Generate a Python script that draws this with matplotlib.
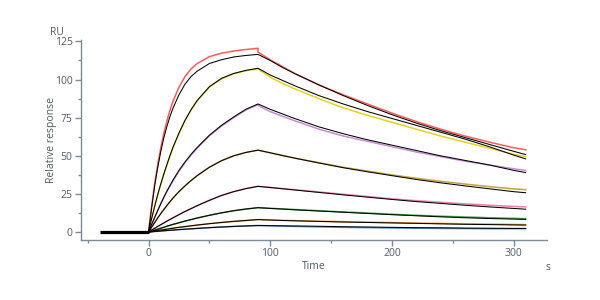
import matplotlib
matplotlib.use("Agg")
import matplotlib.pyplot as plt
from matplotlib.ticker import MultipleLocator

# time points (s)
t_base = [-40, 0]
t_on = [0, 2.5, 5, 7.5, 10, 12.5, 15, 17.5, 20, 25, 30, 35, 40, 50, 60, 70, 80, 90]
t_off = [90, 100, 110, 120, 140, 160, 180, 200, 220, 240, 260, 280, 300, 310]
base = [0, 0]

# measured curves (RU), association / dissociation
red_on = [0, 16.5, 31.5, 44, 55, 64.5, 72.5, 79.5, 85.5, 95, 102, 107, 110.5, 115, 117.3, 118.7, 119.7, 120.5]
red_off = [118, 113, 108.5, 104, 96.5, 90, 84, 78, 72.5, 67.5, 63, 59, 55.3, 54]
yellow_on = [0, 8.5, 16.5, 24, 31, 37.5, 43.5, 49.5, 55, 64.5, 73, 80, 86, 95, 100.5, 103.8, 105.8, 107]
yellow_off = [107, 101.5, 97.5, 94, 87.5, 81.5, 76.5, 72, 67.5, 63, 59, 55, 51, 49.5]
purple_on = [0, 4.8, 9.5, 14, 18.5, 22.5, 26.5, 30, 33.5, 40, 45.5, 50.5, 55, 63, 69.5, 75, 80, 83.5]
purple_off = [83, 79, 76, 73, 67.5, 63, 59.5, 56, 52.5, 49.5, 46.5, 44, 41.5, 40.4]
ochre_on = [0, 3.1, 6.2, 9.2, 12, 14.7, 17.3, 19.8, 22.2, 26.5, 30.3, 33.8, 37, 42.5, 46.8, 50, 52.2, 53.7]
ochre_off = [53.7, 52, 50.2, 48.5, 45.5, 42.5, 40, 37.5, 35.3, 33.3, 31.5, 29.8, 28.3, 27.8]
pink_on = [0, 1.25, 2.5, 3.65, 4.8, 5.95, 7.1, 8.2, 9.3, 11.4, 13.5, 15.4, 17.3, 20.8, 24, 26.5, 28.5, 30]
pink_off = [30, 29.3, 28.5, 27.8, 26.3, 24.8, 23.3, 21.8, 20.6, 19.5, 18.5, 17.6, 16.8, 16.5]
green_on = [0, 0.65, 1.3, 1.9, 2.5, 3.1, 3.8, 4.4, 5, 6.1, 7.2, 8.2, 9.2, 11, 12.6, 14, 15.1, 16]
green_off = [16, 15.6, 15.2, 14.8, 14, 13.2, 12.5, 11.7, 11, 10.4, 9.9, 9.4, 9, 8.8]
orange_on = [0, 0.33, 0.65, 1.0, 1.3, 1.6, 1.9, 2.2, 2.5, 3.1, 3.6, 4.1, 4.6, 5.5, 6.3, 7, 7.6, 8.2]
orange_off = [8.2, 7.9, 7.7, 7.5, 7.1, 6.8, 6.5, 6.2, 5.9, 5.7, 5.4, 5.2, 5.0, 4.9]
blue_on = [0, 0.18, 0.35, 0.52, 0.7, 0.85, 1.0, 1.15, 1.3, 1.6, 1.9, 2.15, 2.4, 2.9, 3.3, 3.7, 4.0, 4.3]
blue_off = [4.3, 4.1, 3.9, 3.7, 3.4, 3.1, 2.9, 2.7, 2.5, 2.4, 2.3, 2.2, 2.2, 2.2]

# fitted curves (black)
fit1_on = [0, 15.5, 30, 42, 52.5, 61.5, 69, 75.5, 81, 90, 97, 102, 105.5, 110.5, 113, 114.8, 115.8, 116.5]
fit1_off = [116.5, 112.5, 108, 104, 96.5, 89.5, 83, 77, 71.5, 66.5, 62, 57.5, 53, 50.8]
fit2_on = [0, 8.7, 16.8, 24.4, 31.4, 37.9, 44, 49.9, 55.4, 64.9, 73.3, 80.3, 86.3, 95.3, 100.8, 104, 106, 107.4]
fit2_off = [107.4, 103, 99.5, 96, 89.5, 84, 79, 74.5, 70, 65.5, 61, 56, 50.5, 48]
fit3_on = [0, 4.8, 9.5, 14, 18.5, 22.7, 26.7, 30.3, 33.9, 40.4, 46, 51, 55.5, 63.5, 70, 75.5, 80.5, 84]
fit3_off = [84, 80.5, 77.5, 74.5, 69, 64.5, 60.5, 57, 53.5, 50, 47, 44, 40.5, 39]
fit4_on = [0, 3.1, 6.2, 9.2, 12, 14.7, 17.3, 19.8, 22.2, 26.5, 30.3, 33.8, 37, 42.5, 46.8, 50, 52.2, 53.7]
fit4_off = [53.7, 52, 50.2, 48.5, 45.3, 42.2, 39.5, 37, 34.5, 32.3, 30.3, 28.4, 26.5, 25.8]
fit5_on = [0, 1.25, 2.5, 3.65, 4.8, 5.95, 7.1, 8.2, 9.3, 11.4, 13.5, 15.4, 17.3, 20.8, 24, 26.5, 28.5, 30]
fit5_off = [30, 29.2, 28.4, 27.6, 26, 24.4, 22.9, 21.4, 20, 18.8, 17.6, 16.5, 15.5, 15]
fit6_on = [0, 0.65, 1.3, 1.9, 2.5, 3.1, 3.8, 4.4, 5, 6.1, 7.2, 8.2, 9.2, 11, 12.6, 14, 15.1, 16]
fit6_off = [16, 15.5, 15.1, 14.6, 13.8, 13, 12.2, 11.4, 10.7, 10, 9.4, 8.9, 8.5, 8.3]
fit7_on = [0, 0.33, 0.65, 1.0, 1.3, 1.6, 1.9, 2.2, 2.5, 3.1, 3.6, 4.1, 4.6, 5.5, 6.3, 7, 7.6, 8.2]
fit7_off = [8.2, 7.9, 7.6, 7.4, 7.0, 6.6, 6.3, 6.0, 5.7, 5.4, 5.1, 4.9, 4.7, 4.6]
fit8_on = [0, 0.18, 0.35, 0.52, 0.7, 0.85, 1.0, 1.15, 1.3, 1.6, 1.9, 2.15, 2.4, 2.9, 3.3, 3.7, 4.0, 4.3]
fit8_off = [4.3, 4.2, 4.1, 4.0, 3.8, 3.5, 3.3, 3.1, 2.9, 2.8, 2.6, 2.5, 2.4, 2.4]

colors = ['#ff5a5a', '#e6d21e', '#c88cd2', '#c8a03c', '#f07ca8', '#46a546', '#f0962d', '#5a8cbe']

measured = [(red_on, red_off), (yellow_on, yellow_off), (purple_on, purple_off),
            (ochre_on, ochre_off), (pink_on, pink_off), (green_on, green_off),
            (orange_on, orange_off), (blue_on, blue_off)]
fits = [(fit1_on, fit1_off), (fit2_on, fit2_off), (fit3_on, fit3_off), (fit4_on, fit4_off),
        (fit5_on, fit5_off), (fit6_on, fit6_off), (fit7_on, fit7_off), (fit8_on, fit8_off)]

plt.rcParams['font.family'] = ['Open Sans', 'DejaVu Sans']
grey = '#7d8a97'
txt = '#505a64'

fig = plt.figure(figsize=(6, 3), dpi=100)
ax = fig.add_axes([0.135, 0.2, 0.777, 0.667])

for (on, off), c in zip(measured, colors):
    ax.plot(t_on + t_off, on + off, color=c, lw=1.1, zorder=2)
for on, off in fits:
    ax.plot(t_on + t_off, on + off, color='black', lw=0.75, zorder=3)
ax.plot(t_base, base, color='black', lw=2.3, zorder=4, solid_capstyle='butt')

ax.set_xlim(-55.5, 327.7)
ax.set_ylim(-5.2, 126)
ax.xaxis.set_major_locator(MultipleLocator(100))
ax.xaxis.set_minor_locator(MultipleLocator(50))
ax.yaxis.set_major_locator(MultipleLocator(25))
ax.yaxis.set_minor_locator(MultipleLocator(12.5))

for s in ['top', 'right']:
    ax.spines[s].set_visible(False)
for s in ['left', 'bottom']:
    ax.spines[s].set_color(grey)
    ax.spines[s].set_linewidth(1.0)
ax.tick_params(which='major', direction='out', length=4, width=1, color=grey,
               labelcolor=txt, labelsize=7.5, pad=2)
ax.tick_params(which='minor', direction='out', length=2.5, width=1, color=grey)

ax.set_xlabel('Time', fontsize=7.5, color=txt, labelpad=1)
ax.set_ylabel('Relative response', fontsize=7.5, color=txt)
ax.yaxis.set_label_coords(-0.052, 0.5)
fig.text(0.083, 0.893, 'RU', fontsize=7.5, color=txt, ha='left', va='center')
fig.text(0.913, 0.107, 's', fontsize=7.5, color=txt, ha='center', va='center')

fig.savefig('out.png', dpi=100)
